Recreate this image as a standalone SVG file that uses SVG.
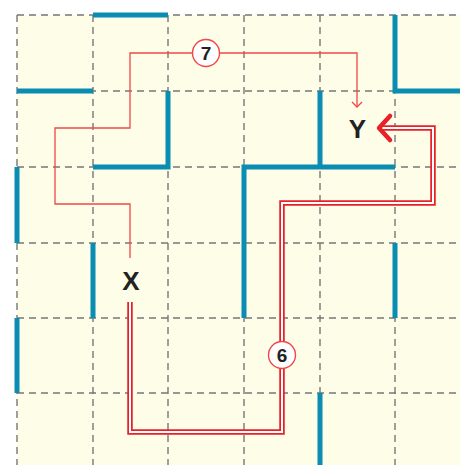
<svg xmlns="http://www.w3.org/2000/svg" width="460" height="465" viewBox="0 0 460 465">
<style>
.grid{stroke:#777;stroke-width:1.4;stroke-dasharray:7 5;fill:none}
.wall{stroke:#0a8db3;stroke-width:5;fill:none;stroke-linecap:butt;stroke-linejoin:miter}
.thin{stroke:#f04848;stroke-width:1.3;fill:none}
.dblo{stroke:#e8202a;stroke-width:5.5;fill:none}
.dbli{stroke:#ffffff;stroke-width:2;fill:none}
.lbl{font-family:"Liberation Sans",Arial,sans-serif;font-size:26px;font-weight:bold;fill:#222;text-anchor:middle}
.num{font-family:"Liberation Sans",Arial,sans-serif;font-size:19px;font-weight:bold;fill:#222;text-anchor:middle}
.badge{fill:#fff;stroke:#f04848;stroke-width:1.4}
</style>
<rect x="0" y="0" width="460" height="465" fill="#ffffff"/>
<rect x="17" y="15" width="443" height="450" fill="#fefde7"/>
<g id="grid" class="grid">
<path d="M17 15V465M93 15V465M168 15V465M244 15V465M320 15V465M395 15V465"/>
<path d="M17 15H460M17 91H460M17 167H460M17 243H460M17 318H460M17 393H460"/>
</g>
<g id="walls" class="wall">
<path d="M93 15H168"/>
<path d="M17 91H93"/>
<path d="M168 91V167H93"/>
<path d="M17 167V243"/>
<path d="M395 15V91H460"/>
<path d="M320 91V167"/>
<path d="M395 167H244V318"/>
<path d="M93 243V318"/>
<path d="M17 318V393"/>
<path d="M395 243V318"/>
<path d="M320 393V465"/>
</g>
<g id="connectors">
<g id="route7">
<path class="thin" d="M130 258V204H55V128H130V53H357V107"/>
<path class="thin" d="M352 102L357 107L362 102"/>
</g>
<g id="route6">
<path class="dblo" d="M130 302V432H282V203H433V128H382"/>
<path class="dbli" d="M130 302V432H282V203H433V128H382"/>
<path d="M390 116L379 128L390 140" fill="none" stroke="#e8202a" stroke-width="4.5" stroke-linecap="round" stroke-linejoin="round"/>
</g>
</g>
<g id="badge7">
<circle class="badge" cx="206" cy="53" r="13.5"/>
<text class="num" x="206" y="59.8">7</text>
</g>
<g id="badge6">
<circle class="badge" cx="282" cy="355" r="13.5"/>
<text class="num" x="282" y="361.8">6</text>
</g>
<g id="nodeX">
<text class="lbl" x="131" y="289.5">X</text>
</g>
<g id="nodeY">
<text class="lbl" x="357.5" y="137.8">Y</text>
</g>
</svg>
